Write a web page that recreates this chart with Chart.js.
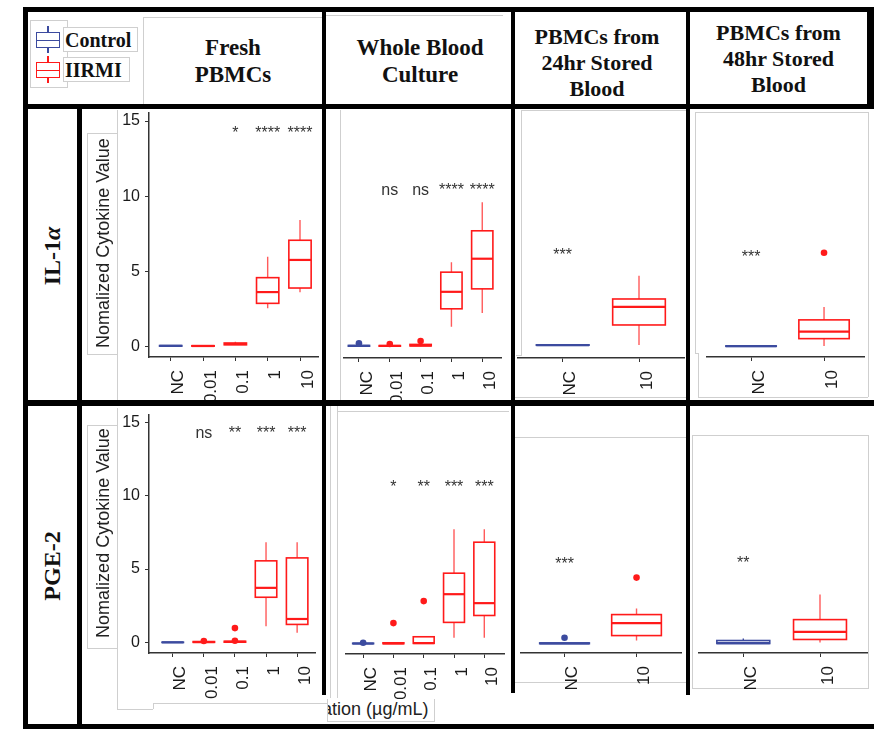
<!DOCTYPE html>
<html>
<head>
<meta charset="utf-8">
<title>IL-1α and PGE-2 normalized cytokine values</title>
<script src="https://cdn.jsdelivr.net/npm/chart.js@4.4.1/dist/chart.umd.min.js"></script>
<style>
  html, body { margin:0; padding:0; background:#fff; }
  #fig { position:relative; width:874px; height:729px; overflow:hidden; background:#fff; }
  .blk { position:absolute; background:#000; z-index:6; }
  .gry { position:absolute; background:#cfcfcf; z-index:1; }
  .gbox { position:absolute; border:1px solid #cfcfcf; box-sizing:border-box; z-index:1; }
  .hd { position:absolute; text-align:center; font-weight:bold; font-family:'Liberation Serif','Times New Roman',serif; color:#111; z-index:5; white-space:nowrap; }
  canvas { position:absolute; z-index:2; }
  .ytitle { position:absolute; white-space:nowrap; font:18px 'Liberation Sans', Arial, sans-serif; color:#222; transform:translate(-50%,-50%) rotate(-90deg); z-index:3; }
  .rowlab { position:absolute; white-space:nowrap; font:bold 24px 'Liberation Serif','Times New Roman',serif; color:#111; transform:translate(-50%,-50%) rotate(-90deg); z-index:5; }
  .leg { position:absolute; font:bold 20px 'Liberation Serif','Times New Roman',serif; line-height:20px; color:#111; z-index:5; }
</style>
</head>
<body>
<div id="fig">
  <!-- header texts -->
  <div class="hd" style="left:143px;top:33.7px;width:180px;font-size:23px;line-height:27px;">Fresh<br>PBMCs</div>
  <div class="hd" style="left:325px;top:33.7px;width:190px;font-size:23px;line-height:27px;">Whole Blood<br>Culture</div>
  <div class="hd" style="left:512px;top:23.6px;width:170px;font-size:22px;line-height:26px;">PBMCs from<br>24hr Stored<br>Blood</div>
  <div class="hd" style="left:690px;top:19.6px;width:177px;font-size:22px;line-height:26px;">PBMCs from<br>48hr Stored<br>Blood</div>

  <!-- row labels -->
  <div class="rowlab" style="left:52px;top:256px;">IL-1<i>α</i></div>
  <div class="rowlab" style="left:52px;top:566px;">PGE-2</div>

  <!-- y axis titles -->
  <div class="ytitle" style="left:103px;top:243px;">Nomalized Cytokine Value</div>
  <div class="ytitle" style="left:103px;top:533px;">Nomalized Cytokine Value</div>

  <!-- partial x title -->
  <div style="position:absolute;left:327px;top:699px;width:108px;height:23px;border:1px solid #cfcfcf;border-top:none;box-sizing:border-box;overflow:hidden;z-index:4;background:#fff;">
    <div style="position:absolute;left:-6px;top:0.5px;white-space:nowrap;font:18px 'Liberation Sans',Arial,sans-serif;line-height:18px;color:#222;">ation (µg/mL)</div>
  </div>
</div>

<script>
// ---------------- data ----------------
const CONTROL_COLOR = '#3c4b9f';
const IIRMI_COLOR = '#ff1a1a';
const IIRMI_WHISKER = '#ff5b5b';

const legendLabels = ['Control', 'IIRMI'];
const doseCategories = ['NC', '0.01', '0.1', '1', '10'];
const storedCategories = ['NC', '10'];
const yTickValues = [0, 5, 10, 15];

// each box: [lower whisker, Q1, median, Q3, upper whisker]
const il1aFreshStats = [
  [0.00, 0.01, 0.03, 0.05, 0.06],
  [0.00, 0.01, 0.02, 0.04, 0.05],
  [0.08, 0.10, 0.15, 0.22, 0.30],
  [2.53, 2.86, 3.61, 4.57, 5.97],
  [3.60, 3.88, 5.75, 7.06, 8.41]
];
const il1aFreshOutliers = [];
const il1aFreshSig = ['', '', '*', '****', '****'];
const il1aFreshSigLevel = 13.9;

const il1aWholeStats = [
  [0.00, 0.00, 0.02, 0.05, 0.05],
  [0.00, 0.00, 0.02, 0.04, 0.04],
  [0.00, 0.02, 0.05, 0.12, 0.12],
  [1.31, 2.53, 3.68, 5.01, 5.68],
  [2.24, 3.88, 5.92, 7.81, 9.74]
];
const il1aWholeOutliers = [['NC', 0.2], ['0.01', 0.15], ['0.1', 0.35]];
const il1aWholeSig = ['', 'ns', 'ns', '****', '****'];
const il1aWholeSigLevel = 10.2;

const il1a24hStats = [
  [0.06, 0.07, 0.08, 0.10, 0.10],
  [0.09, 1.42, 2.62, 3.15, 4.70]
];
const il1a24hOutliers = [];
const il1a24hSig = ['***', ''];
const il1a24hSigLevel = 5.75;

const il1a48hStats = [
  [0.00, 0.01, 0.02, 0.04, 0.04],
  [0.04, 0.53, 1.00, 1.80, 2.68]
];
const il1a48hOutliers = [['10', 6.34]];
const il1a48hSig = ['***', ''];
const il1a48hSigLevel = 5.7;

const pge2FreshStats = [
  [0.00, 0.00, 0.01, 0.02, 0.02],
  [0.00, 0.01, 0.03, 0.06, 0.08],
  [0.00, 0.02, 0.05, 0.08, 0.10],
  [1.11, 3.08, 3.72, 5.56, 6.83],
  [0.67, 1.23, 1.60, 5.76, 6.83]
];
const pge2FreshOutliers = [['0.01', 0.10], ['0.1', 0.12], ['0.1', 0.98]];
const pge2FreshSig = ['', 'ns', '**', '***', '***'];
const pge2FreshSigLevel = 13.93;

const pge2WholeStats = [
  [0.00, 0.00, 0.01, 0.03, 0.03],
  [0.00, 0.00, 0.02, 0.06, 0.06],
  [0.00, 0.02, 0.04, 0.47, 0.50],
  [0.40, 1.45, 3.37, 4.80, 7.79],
  [0.40, 1.92, 2.76, 6.91, 7.79]
];
const pge2WholeOutliers = [['NC', 0.06], ['0.01', 1.4], ['0.1', 2.9]];
const pge2WholeSig = ['', '*', '**', '***', '***'];
const pge2WholeSigLevel = 10.3;

const pge224hStats = [
  [0.00, 0.00, 0.02, 0.05, 0.05],
  [0.22, 0.55, 1.40, 1.98, 2.40]
];
const pge224hOutliers = [['NC', 0.4], ['10', 4.5]];
const pge224hSig = ['***', ''];
const pge224hSigLevel = 5.06;

const pge248hStats = [
  [0.00, 0.00, 0.02, 0.20, 0.33],
  [0.07, 0.27, 0.78, 1.60, 3.28]
];
const pge248hOutliers = [];
const pge248hSig = ['**', ''];
const pge248hSigLevel = 5.06;

// ---------------- layout (page pixels) ----------------
const panels = [
  { cats: doseCategories, stats: il1aFreshStats, outliers: il1aFreshOutliers, sig: il1aFreshSig, sigLevel: il1aFreshSigLevel,
    yAxis: true, plotLeft: 149, plotRight: 319, top: 112, axisY: 357, bottom: 402, zeroY: 346.3, k: 15.02, firstTick: 170.7, lastTick: 300 },
  { cats: doseCategories, stats: il1aWholeStats, outliers: il1aWholeOutliers, sig: il1aWholeSig, sigLevel: il1aWholeSigLevel,
    yAxis: false, plotLeft: 340, plotRight: 505, top: 112, axisY: 358, bottom: 402, zeroY: 346, k: 15.02, firstTick: 355.7, lastTick: 485.3 },
  { cats: storedCategories, stats: il1a24hStats, outliers: il1a24hOutliers, sig: il1a24hSig, sigLevel: il1a24hSigLevel,
    yAxis: false, plotLeft: 517, plotRight: 685, top: 112, axisY: 358, bottom: 402, zeroY: 346.3, k: 15.02, firstTick: 562.7, lastTick: 639 },
  { cats: storedCategories, stats: il1a48hStats, outliers: il1a48hOutliers, sig: il1a48hSig, sigLevel: il1a48hSigLevel,
    yAxis: false, plotLeft: 703, plotRight: 868, top: 112, axisY: 357, bottom: 402, zeroY: 346.3, k: 15.02, firstTick: 749.3, lastTick: 826 },
  { cats: doseCategories, stats: pge2FreshStats, outliers: pge2FreshOutliers, sig: pge2FreshSig, sigLevel: pge2FreshSigLevel,
    yAxis: true, plotLeft: 149, plotRight: 319, top: 411, axisY: 653, bottom: 700, zeroY: 642.3, k: 14.93, firstTick: 173.3, lastTick: 300.7 },
  { cats: doseCategories, stats: pge2WholeStats, outliers: pge2WholeOutliers, sig: pge2WholeSig, sigLevel: pge2WholeSigLevel,
    yAxis: false, plotLeft: 342, plotRight: 508, top: 411, axisY: 654, bottom: 700, zeroY: 643.5, k: 14.93, firstTick: 360, lastTick: 487.3 },
  { cats: storedCategories, stats: pge224hStats, outliers: pge224hOutliers, sig: pge224hSig, sigLevel: pge224hSigLevel,
    yAxis: false, plotLeft: 517, plotRight: 685, top: 411, axisY: 653, bottom: 700, zeroY: 643.5, k: 14.93, firstTick: 562.7, lastTick: 638.3 },
  { cats: storedCategories, stats: pge248hStats, outliers: pge248hOutliers, sig: pge248hSig, sigLevel: pge248hSigLevel,
    yAxis: false, plotLeft: 698, plotRight: 868, top: 411, axisY: 653, bottom: 700, zeroY: 643.5, k: 14.93, firstTick: 743.3, lastTick: 820 }
];

const fig = document.getElementById('fig');
function addDiv(cls, l, t, w, h, extra) {
  const d = document.createElement('div');
  d.className = cls;
  d.style.left = l + 'px'; d.style.top = t + 'px';
  d.style.width = w + 'px'; d.style.height = h + 'px';
  if (extra) Object.assign(d.style, extra);
  fig.appendChild(d);
  return d;
}

// ---------------- thick black table lines ----------------
[[23, 7, 851, 5], [23, 104, 851, 5], [23, 400, 851, 6], [23, 724, 851, 5],
 [23, 7, 5, 722], [77, 104, 5, 625],
 [322, 7, 4, 688], [511, 7, 4, 686], [686, 7, 4, 688], [867, 7, 7, 102]
].forEach(r => addDiv('blk', ...r));

// ---------------- thin grey frame fragments ----------------
addDiv('gbox', 143, 17, 182, 92, { borderRight: 'none', borderBottom: 'none' });
addDiv('gry', 325, 15, 178, 1);
addDiv('gbox', 87, 133, 31, 222, { borderRight: 'none' });
addDiv('gry', 117, 110, 1, 292);
addDiv('gbox', 87, 425, 31, 224, { borderRight: 'none' });
addDiv('gry', 117, 408, 1, 301);
addDiv('gry', 117, 709, 36, 1);
addDiv('gry', 153, 703, 1, 6);
addDiv('gry', 153, 703, 174, 1);
addDiv('gry', 340, 110, 1, 290);
addDiv('gry', 521, 110, 1, 245);
addDiv('gry', 521, 110, 165, 1);
addDiv('gry', 516, 355, 6, 1);
addDiv('gry', 515, 397, 171, 1);
addDiv('gry', 695, 112, 1, 242);
addDiv('gry', 695, 112, 173, 1);
addDiv('gry', 695, 353, 4, 1);
addDiv('gry', 698, 353, 1, 44);
addDiv('gry', 698, 397, 170, 1);
addDiv('gry', 868, 112, 1, 285);
addDiv('gry', 330, 406, 1, 292);
addDiv('gry', 337, 406, 1, 292);
addDiv('gry', 337, 411, 172, 1);
addDiv('gry', 515, 437, 171, 1);
addDiv('gry', 515, 682, 171, 1);
addDiv('gbox', 692, 435, 177, 254);

// ---------------- legend ----------------
addDiv('gbox', 30, 20, 38, 68);
addDiv('gbox', 63, 27, 75, 25, { background: '#fff', zIndex: 2 });
addDiv('gbox', 63, 57, 67, 25, { background: '#fff', zIndex: 2 });
function legendIcon(top, color) {
  addDiv('gbox', 36, top, 24, 16, { border: '1.5px solid ' + color, zIndex: 4 });
  addDiv('gry', 36, top + 7.5, 24, 1.5, { background: color, zIndex: 4 });
  addDiv('gry', 47.3, top - 6, 1.5, 6, { background: color, zIndex: 4 });
  addDiv('gry', 47.3, top + 16, 1.5, 5, { background: color, zIndex: 4 });
}
legendIcon(32, CONTROL_COLOR);
legendIcon(62, IIRMI_COLOR);
legendLabels.forEach((txt, i) => {
  const d = addDiv('leg', 65, 30 + i * 30, 80, 20);
  d.textContent = txt;
});

// ---------------- box plot plugin (draws through chart scales) ----------------
const boxPlotPlugin = {
  id: 'boxPlot',
  beforeDatasetsDraw(chart, args, opts) {
    const p = panels[opts.panelIndex];
    const xs = chart.scales.x, ys = chart.scales.y, ctx = chart.ctx;
    const half = Math.abs(xs.getPixelForValue(2) - xs.getPixelForValue(1)) * 0.69 / 2;
    ctx.save();
    p.stats.forEach((s, i) => {
      const [lo, q1, med, q3, hi] = s;
      const cx = xs.getPixelForValue(i + 1);
      const isCtl = p.cats[i] === 'NC';
      const main = isCtl ? CONTROL_COLOR : IIRMI_COLOR;
      const wcol = isCtl ? CONTROL_COLOR : IIRMI_WHISKER;
      const pLo = ys.getPixelForValue(lo), pQ1 = ys.getPixelForValue(q1);
      const pMed = ys.getPixelForValue(med), pQ3 = ys.getPixelForValue(q3);
      const pHi = ys.getPixelForValue(hi);
      ctx.strokeStyle = wcol; ctx.lineWidth = 1.4;
      ctx.beginPath();
      ctx.moveTo(cx, pQ3); ctx.lineTo(cx, pHi);
      ctx.moveTo(cx, pQ1); ctx.lineTo(cx, pLo);
      ctx.stroke();
      ctx.strokeStyle = main; ctx.lineWidth = 1.6;
      ctx.strokeRect(cx - half, pQ3, 2 * half, pQ1 - pQ3);
      ctx.lineWidth = 2.2;
      ctx.beginPath();
      ctx.moveTo(cx - half, pMed); ctx.lineTo(cx + half, pMed);
      ctx.stroke();
    });
    ctx.restore();
  },
  afterDatasetsDraw(chart, args, opts) {
    const p = panels[opts.panelIndex];
    const xs = chart.scales.x, ys = chart.scales.y, ctx = chart.ctx;
    ctx.save();
    ctx.font = '16px "Liberation Sans", Arial, sans-serif';
    ctx.fillStyle = '#333';
    ctx.textAlign = 'center';
    ctx.textBaseline = 'alphabetic';
    const y = ys.getPixelForValue(p.sigLevel);
    p.sig.forEach((t, i) => { if (t) ctx.fillText(t, xs.getPixelForValue(i + 1), y); });
    ctx.restore();
  }
};
Chart.register(boxPlotPlugin);

// ---------------- build charts ----------------
panels.forEach((p, idx) => {
  const canvasLeft = p.yAxis ? 82 : p.plotLeft;
  const yW = p.plotLeft - canvasLeft;
  const w = Math.round(p.plotRight - canvasLeft);
  const h = Math.round(p.bottom - p.top);
  const xH = p.bottom - p.axisY;
  const cv = document.createElement('canvas');
  cv.width = w; cv.height = h;
  cv.style.left = canvasLeft + 'px'; cv.style.top = p.top + 'px';
  cv.style.width = w + 'px'; cv.style.height = h + 'px';
  fig.appendChild(cv);

  const n = p.cats.length;
  const spacing = (p.lastTick - p.firstTick) / (n - 1);
  const xMin = 1 - (p.firstTick - p.plotLeft) / spacing;
  const xMax = n + (p.plotRight - p.lastTick) / spacing;
  const yMin = -(p.axisY - p.zeroY) / p.k;
  const yMax = (p.zeroY - p.top) / p.k;

  const outlierPoints = p.outliers.map(([c, v]) => ({ x: p.cats.indexOf(c) + 1, y: v }));
  const outlierColors = p.outliers.map(([c]) => c === 'NC' ? CONTROL_COLOR : IIRMI_COLOR);

  new Chart(cv, {
    type: 'scatter',
    data: {
      datasets: [{
        label: 'outliers',
        data: outlierPoints,
        backgroundColor: outlierColors,
        borderWidth: 0,
        pointRadius: 3.3,
        clip: false
      }]
    },
    options: {
      responsive: false,
      animation: false,
      devicePixelRatio: 1,
      events: [],
      layout: { padding: 0 },
      plugins: {
        legend: { display: false },
        tooltip: { enabled: false },
        boxPlot: { panelIndex: idx }
      },
      scales: {
        x: {
          type: 'linear',
          min: xMin, max: xMax,
          afterBuildTicks: s => { s.ticks = p.cats.map((c, i) => ({ value: i + 1 })); },
          afterFit: s => { s.height = xH; s.paddingLeft = 0; s.paddingRight = 0; },
          ticks: {
            autoSkip: false,
            minRotation: 90, maxRotation: 90,
            padding: 9,
            labelOffset: 8,
            color: '#1a1a1a',
            font: { family: "'Liberation Sans', Arial, sans-serif", size: 17 },
            callback: v => p.cats[v - 1]
          },
          grid: { display: true, drawOnChartArea: false, drawTicks: true, tickLength: 4, color: '#333', lineWidth: 1 },
          border: { display: true, color: '#333', width: 1.5 }
        },
        y: {
          type: 'linear',
          display: p.yAxis,
          min: yMin, max: yMax,
          afterBuildTicks: s => { s.ticks = yTickValues.map(v => ({ value: v })); },
          afterFit: s => { if (p.yAxis) s.width = yW; s.paddingTop = 0; s.paddingBottom = 0; },
          ticks: {
            padding: 5,
            color: '#1a1a1a',
            font: { family: "'Liberation Sans', Arial, sans-serif", size: 16 }
          },
          grid: { display: true, drawOnChartArea: false, drawTicks: true, tickLength: 4, color: '#333', lineWidth: 1 },
          border: { display: true, color: '#333', width: 1.5 }
        }
      }
    }
  });
});
</script>
</body>
</html>
